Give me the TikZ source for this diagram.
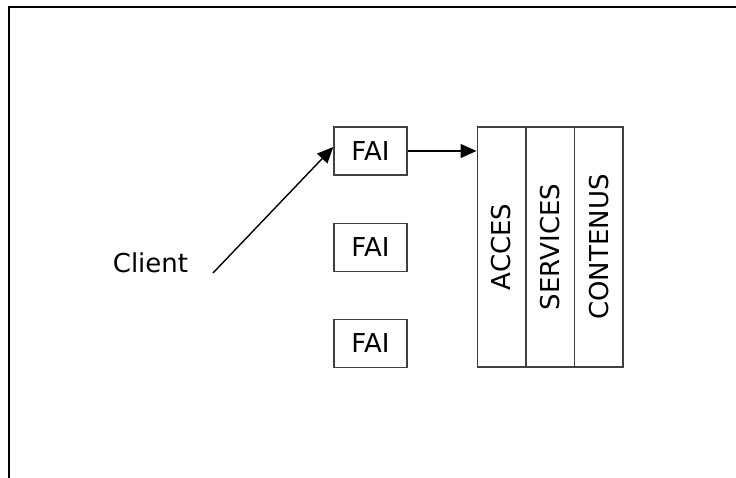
\documentclass[tikz,border=0pt]{standalone}
\usepackage{fontspec}
\setmainfont{DejaVu Sans}
\usetikzlibrary{arrows.meta,calc}
\begin{document}
\begin{tikzpicture}[x=1pt,y=1pt,
  every node/.style={font=\fontsize{26}{30}\selectfont},
  box/.style={draw=black!75, line width=1.5pt, minimum width=73pt, minimum height=48pt, inner sep=0pt},
  col/.style={draw=black!75, line width=1.5pt, minimum width=48.5pt, minimum height=240pt, inner sep=0pt},
  arr/.style={line width=1.4pt, -{Triangle[length=16pt,width=14pt]}},
  frame/.style={line width=2pt}]
\useasboundingbox (0,0) rectangle (736,478);
\draw[frame] (9,0) -- (9,471) -- (736,471);
\node[box] (fai1) at (370.5,327) {FAI};
\node[box] (fai2) at (370.5,230.5) {FAI};
\node[box] (fai3) at (370.5,134.5) {FAI};
\node[col] (acces) at (501.5,231) {};
\node[col] (serv) at (550.25,231) {};
\node[col] (cont) at (598.75,231) {};
\node[rotate=90] (taccess) at (acces.center) {ACCES};
\node[rotate=90] (tserv) at (serv.center) {SERVICES};
\node[rotate=90] (tcont) at (cont.center) {CONTENUS};
\node (client) at (150.5,215) {Client};
\coordinate (cstart) at (213,205);
\draw[arr] (cstart) -- ($(fai1.west)+(0,4)$);
\draw[arr] (fai1.east) -- (fai1.east -| acces.west);
\end{tikzpicture}
\end{document}
